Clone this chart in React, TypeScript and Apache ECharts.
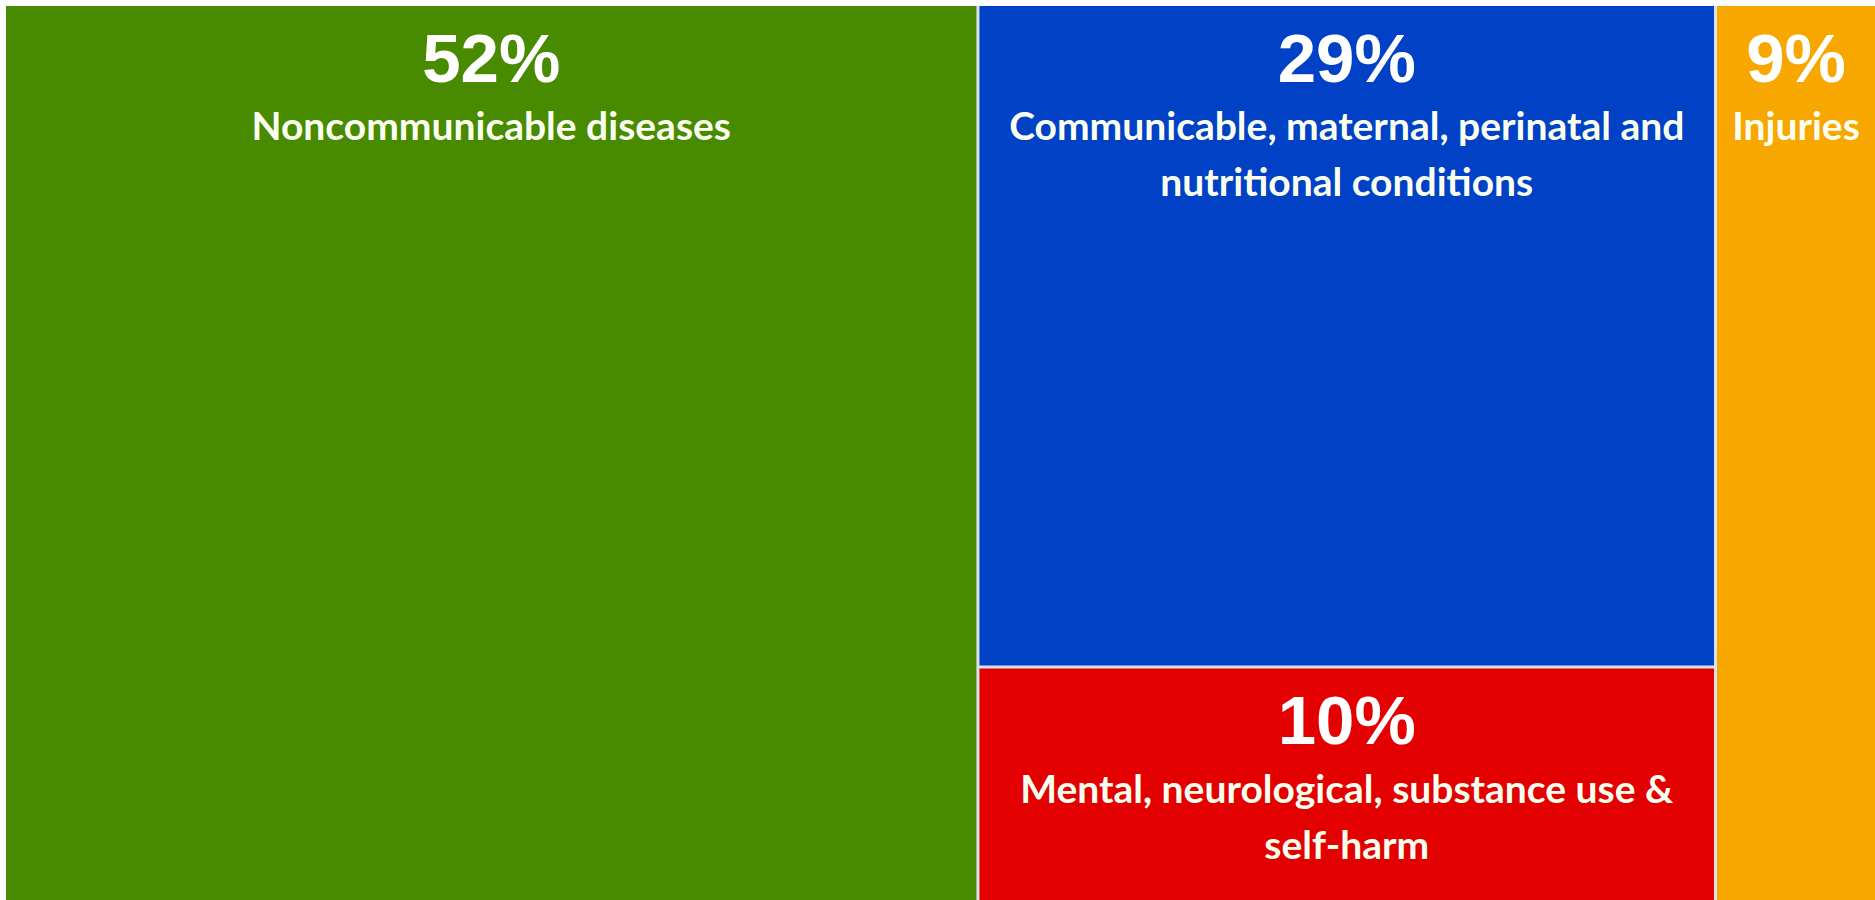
import React, { useEffect, useRef } from "react";
import * as echarts from "echarts";

const categories = [
  "Noncommunicable diseases",
  "Communicable, maternal, perinatal and nutritional conditions",
  "Mental, neurological, substance use & self-harm",
  "Injuries",
];
// shares estimated from the tile areas; labels show them rounded
const shares = [52.0, 29.1, 10.3, 8.6];
const colors = ["#488b00", "#0041c6", "#e30000", "#f8a600"];

const NAME_FONT = "bold 39px Lato, sans-serif";
const WRAP_WIDTH = 715;

function wrapWords(text: string, maxWidth: number): string[] {
  const canvas = document.createElement("canvas");
  const ctx = canvas.getContext("2d");
  if (!ctx) return [text];
  ctx.font = NAME_FONT;
  const words = text.split(" ");
  const lines: string[] = [];
  let cur = "";
  for (const w of words) {
    const test = cur ? cur + " " + w : w;
    if (cur && ctx.measureText(test).width > maxWidth) {
      lines.push(cur);
      cur = w;
    } else {
      cur = test;
    }
  }
  if (cur) lines.push(cur);
  return lines;
}

export default function App() {
  const ref = useRef<HTMLDivElement>(null);
  useEffect(() => {
    if (!ref.current) return;
    const chart = echarts.init(ref.current, null, { renderer: "svg" });
    const leaf = (i: number) => ({
      name: categories[i],
      value: shares[i],
      itemStyle: { color: colors[i] },
    });
    const data = [
      leaf(0),
      {
        name: "group",
        value: shares[1] + shares[2],
        children: [leaf(1), leaf(2)],
      },
      leaf(3),
    ];
    chart.setOption({
      animation: false,
      series: [
        {
          type: "treemap",
          left: 6,
          top: 6,
          right: 0,
          bottom: 0,
          roam: false,
          nodeClick: false,
          breadcrumb: { show: false },
          sort: "desc",
          itemStyle: { borderWidth: 0, gapWidth: 3, borderColor: "#dbe2e8" },
          upperLabel: { show: false },
          label: {
            show: true,
            position: "insideTop",
            distance: 8,
            align: "center",
            overflow: "none",
            color: "#ffffff",
            formatter: (p: any) => {
              const lines = wrapWords(p.name, WRAP_WIDTH)
                .map((l) => `{n|${l}}`)
                .join("\n");
              return `{p|${Math.round(p.value)}%}\n${lines}`;
            },
            rich: {
              p: {
                fontFamily: "Liberation Sans, Arial, sans-serif",
                fontWeight: "bold",
                fontSize: 69,
                lineHeight: 78,
                color: "#ffffff",
                align: "center",
              },
              n: {
                fontFamily: "Lato, sans-serif",
                fontWeight: "bold",
                fontSize: 39,
                lineHeight: 56,
                color: "#fbfff0",
                align: "center",
              },
            },
          },
          data,
        },
      ],
    });
    return () => chart.dispose();
  }, []);
  return (
    <div
      ref={ref}
      style={{ position: "fixed", left: 0, top: 0, width: 1875, height: 900, background: "#ffffff" }}
    />
  );
}
